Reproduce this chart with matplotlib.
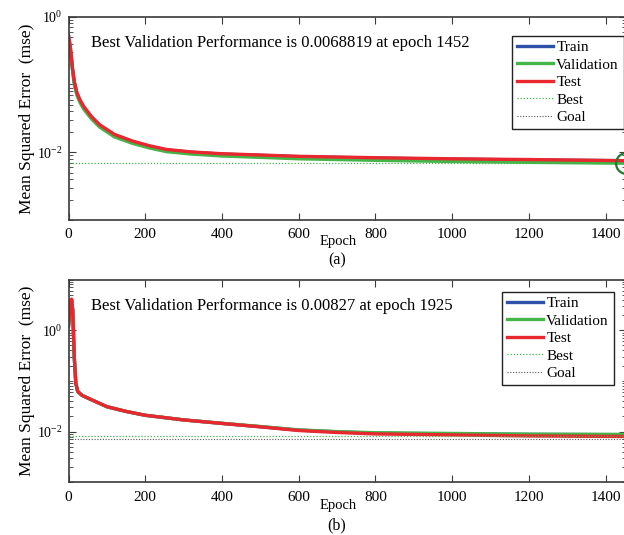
import numpy as np
import matplotlib
matplotlib.use("Agg")
import matplotlib.pyplot as plt
from matplotlib.ticker import LogLocator, NullFormatter, FixedLocator

plt.rcParams['font.family'] = ['Liberation Serif', 'DejaVu Serif']
plt.rcParams['mathtext.fontset'] = 'stix'

# (a) training record
epochs_a = [0, 5, 10, 15, 22, 30, 40, 60, 81, 120, 167, 210, 255, 320, 400, 500, 600, 800, 1000, 1200, 1452]
train_a = [0.52, 0.34, 0.18, 0.11, 0.074, 0.058, 0.046, 0.033, 0.025, 0.018, 0.0144, 0.0123, 0.0108,
           0.0100, 0.0094, 0.0090, 0.0086, 0.0082, 0.0079, 0.0077, 0.0075]
valid_a = [0.50, 0.32, 0.17, 0.10, 0.069, 0.054, 0.043, 0.031, 0.0235, 0.0168, 0.0135, 0.0116, 0.0102,
           0.0094, 0.0088, 0.0084, 0.0080, 0.0076, 0.0073, 0.0071, 0.0068819]
test_a = [0.53, 0.35, 0.18, 0.11, 0.075, 0.059, 0.047, 0.0335, 0.0255, 0.0183, 0.0146, 0.0125, 0.0110,
          0.0101, 0.0095, 0.0091, 0.0087, 0.0083, 0.0080, 0.0078, 0.0075]
best_a = (1452, 0.0068819)
goal_a = 0

# (b) training record
epochs_b = [0, 4, 8, 11, 15, 19, 24, 35, 50, 100, 150, 200, 300, 400, 500, 600, 700, 800, 1000, 1200, 1452]
train_b = [1.2, 2.8, 4.0, 2.5, 0.3, 0.09, 0.062, 0.052, 0.046, 0.031, 0.025, 0.021, 0.017, 0.0145,
           0.0125, 0.0107, 0.0099, 0.0093, 0.0090, 0.0088, 0.0087]
valid_b = [1.2, 2.8, 4.0, 2.5, 0.3, 0.09, 0.062, 0.052, 0.046, 0.031, 0.025, 0.021, 0.017, 0.0146,
           0.0126, 0.0108, 0.0100, 0.0095, 0.0092, 0.0089, 0.0088]
test_b = [1.2, 2.8, 4.1, 2.5, 0.3, 0.09, 0.062, 0.052, 0.046, 0.031, 0.025, 0.021, 0.017, 0.0145,
          0.0124, 0.0105, 0.0096, 0.0090, 0.0086, 0.0082, 0.0080]
best_b = (1925, 0.00827)
goal_b = 0.0071

xticks = [0, 200, 400, 600, 800, 1000, 1200, 1400]
xmax = 1452

c_train = '#2f52a8'
c_valid = '#45b54a'
c_test = '#e8282e'
c_edge = '#3a3a3a'


def draw_panel(ax, ep, tr, va, te, best, goal, best_text, ylim, legend_anchor):
    ax.plot(ep, tr, color=c_train, lw=2.4, label='Train')
    ax.plot(ep, va, color=c_valid, lw=2.4, label='Validation')
    ax.plot(ep, te, color=c_test, lw=2.4, label='Test')
    ax.axhline(best[1], color=c_valid, lw=0.9, ls=(0, (1, 1.5)), label='Best')
    ax.axvline(best[0], color=c_valid, lw=0.9, ls=(0, (1, 1.5)))
    if goal > 0:
        ax.axhline(goal, color='#555555', lw=0.8, ls=(0, (1, 1.5)), label='Goal')
    else:
        ax.plot([], [], color='#555555', lw=0.8, ls=(0, (1, 1.5)), label='Goal')
    ax.plot(best[0], best[1], 'o', mfc='none', mec='#1f7a2e', ms=15, mew=1.6, clip_on=False)

    ax.set_yscale('log')
    ax.set_xlim(0, xmax)
    ax.set_ylim(*ylim)
    ax.set_xticks(xticks)
    ax.yaxis.set_major_locator(FixedLocator([1e-2, 1e0]))
    ax.yaxis.set_minor_locator(LogLocator(base=10, subs=np.arange(1, 10), numticks=30))
    ax.yaxis.set_minor_formatter(NullFormatter())
    ax.set_yticklabels([r'$\mathdefault{10^{-2}}$', r'$\mathdefault{10^{0}}$'])
    ax.tick_params(which='both', direction='in', top=True, right=True, color=c_edge)
    ax.tick_params(axis='x', labelsize=11, pad=6)
    ax.tick_params(axis='y', labelsize=10, pad=4)
    ax.tick_params(which='major', length=5)
    ax.tick_params(which='minor', length=3)
    for s in ax.spines.values():
        s.set_color(c_edge)
        s.set_linewidth(1.2)
    ax.set_ylabel('Mean Squared Error  (mse)', fontsize=12.5)
    ax.yaxis.set_label_coords(-0.061, 0.5)
    ax.text(0.04, 0.87, best_text, transform=ax.transAxes, fontsize=12, va='center')
    leg = ax.legend(loc='upper right', bbox_to_anchor=legend_anchor,
                    bbox_transform=ax.figure.transFigure, borderaxespad=0,
                    fancybox=False, framealpha=1, edgecolor='#222222', fontsize=11,
                    handlelength=2.4, handletextpad=0.2, labelspacing=0.25, borderpad=0.3)
    leg.get_frame().set_linewidth(1.0)


fig = plt.figure(figsize=(6.24, 5.35), dpi=100)
W, H = 624, 535
ax1 = fig.add_axes([68.5 / W, 1 - 220 / H, 557 / W, 203.3 / H])
ax2 = fig.add_axes([68.5 / W, 1 - 482.3 / H, 557 / W, 202.8 / H])

draw_panel(ax1, epochs_a, train_a, valid_a, test_a, best_a, goal_a,
           'Best Validation Performance is 0.0068819 at epoch 1452',
           (1e-3, 1e0), (623.5 / W, 1 - 36 / H))
draw_panel(ax2, epochs_b, train_b, valid_b, test_b, best_b, goal_b,
           'Best Validation Performance is 0.00827 at epoch 1925',
           (1e-3, 1e1), (613.5 / W, 1 - 292 / H))

fig.text(338 / W, 1 - 241 / H, 'Epoch', ha='center', va='center', fontsize=10.5)
fig.text(337 / W, 1 - 260 / H, '(a)', ha='center', va='center', fontsize=11.5)
fig.text(338 / W, 1 - 505 / H, 'Epoch', ha='center', va='center', fontsize=10.5)
fig.text(337 / W, 1 - 525 / H, '(b)', ha='center', va='center', fontsize=11.5)

fig.savefig('out.png', dpi=100)
